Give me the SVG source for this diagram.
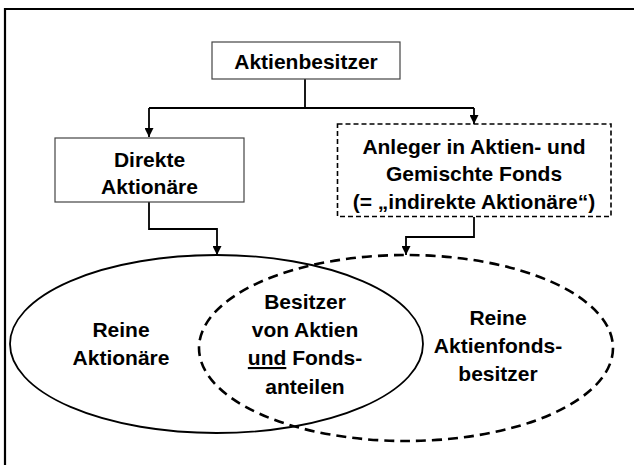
<svg xmlns="http://www.w3.org/2000/svg" width="634" height="465" viewBox="0 0 634 465">
<style>
text{font-family:"Liberation Sans",Arial,sans-serif;font-weight:bold;font-size:21px;fill:#000;text-anchor:middle}
.box{fill:#fff;stroke:#444;stroke-width:1.2}
.dbox{fill:none;stroke:#000;stroke-width:1.6;stroke-dasharray:5 3}
.conn{fill:none;stroke:#000;stroke-width:1.8}
.ell{fill:none;stroke:#000;stroke-width:1.8}
.dell{fill:none;stroke:#000;stroke-width:2.6;stroke-dasharray:10 6}
</style>
<defs>
<marker id="arr" viewBox="0 0 10 10" refX="10" refY="5" markerWidth="10" markerHeight="9" markerUnits="userSpaceOnUse" orient="auto">
<path d="M0,0 L10,5 L0,10 z" fill="#000"/>
</marker>
</defs>
<rect width="634" height="465" fill="#fff"/>
<path d="M5,465 V9 H634" fill="none" stroke="#000" stroke-width="2.2"/>
<g id="connectors">
<path class="conn" d="M305,79 V108"/>
<path class="conn" d="M149,108 H474"/>
<path class="conn" d="M149,108 V137" marker-end="url(#arr)"/>
<path class="conn" d="M474,108 V124" marker-end="url(#arr)"/>
<path class="conn" d="M149,202 V229 H217 V255" marker-end="url(#arr)"/>
<path class="conn" d="M474,217 V237 H406 V255" marker-end="url(#arr)"/>
</g>
<g id="n-aktienbesitzer">
<rect class="box" x="212" y="42" width="188" height="37"/>
<text x="306" y="69">Aktienbesitzer</text>
</g>
<g id="n-direkte">
<rect class="box" x="55" y="138" width="189" height="64"/>
<text x="149.5" y="166.5">Direkte</text>
<text x="149.5" y="194">Aktionäre</text>
</g>
<g id="n-anleger">
<rect class="dbox" x="337.5" y="124" width="273.5" height="92.5"/>
<text x="474" y="153.5">Anleger in Aktien- und</text>
<text x="474" y="181">Gemischte Fonds</text>
<text x="474" y="208.5">(= „indirekte Aktionäre“)</text>
</g>
<g id="n-direkt-ellipse">
<ellipse class="ell" cx="216.5" cy="344" rx="206.5" ry="89"/>
<text x="121" y="336.5">Reine</text>
<text x="121" y="365">Aktionäre</text>
</g>
<g id="n-indirekt-ellipse">
<ellipse class="dell" cx="406" cy="348" rx="207" ry="93"/>
<text x="498" y="325">Reine</text>
<text x="498" y="353">Aktienfonds-</text>
<text x="498" y="381">besitzer</text>
</g>
<g id="n-beide">
<text x="305" y="308.5">Besitzer</text>
<text x="305" y="337">von Aktien</text>
<text x="305" y="365"><tspan text-decoration="underline">und</tspan> Fonds-</text>
<text x="305" y="393.5">anteilen</text>
</g>
</svg>
